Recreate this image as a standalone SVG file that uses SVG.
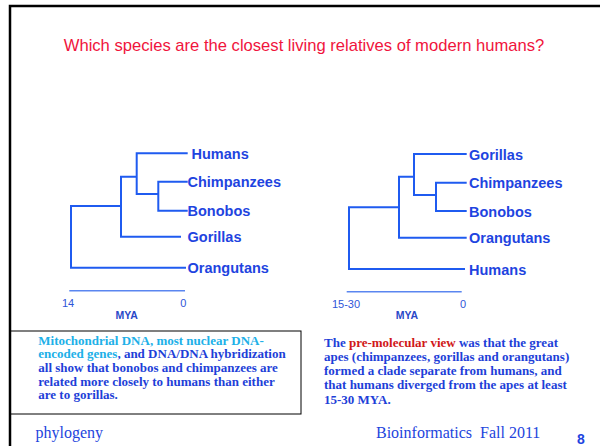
<svg xmlns="http://www.w3.org/2000/svg" width="600" height="446" viewBox="0 0 600 446">
<style>
.br{fill:none;stroke:#1f5bf0;stroke-width:2;stroke-linecap:square}
.sc{fill:none;stroke:#5a86f0;stroke-width:1.5}
.lab{font-family:"Liberation Sans",Arial,sans-serif;font-weight:bold;font-size:14.5px;fill:#1e44e0}
.num{font-family:"Liberation Sans",Arial,sans-serif;font-size:11px;fill:#2f55d8}
.mya{font-family:"Liberation Sans",Arial,sans-serif;font-weight:bold;font-size:10.5px;fill:#2a48c8}
.tx{font-family:"Liberation Serif","Times New Roman",serif;font-weight:bold;font-size:13px;fill:#1e3fd8}
.cy{fill:#20b0e8}
.rd{fill:#d01818}
.ft{font-family:"Liberation Serif","Times New Roman",serif;font-size:16px;fill:#2244dd}
</style>
<rect width="600" height="446" fill="#fff"/>
<g id="frame" fill="none" stroke="#000" stroke-width="2.5">
<path d="M10,446 V6 H600"/>
</g>
<text id="title" x="304" y="51" text-anchor="middle" font-family="'Liberation Sans',Arial,sans-serif" font-size="16.6" fill="#f0143c">Which species are the closest living relatives of modern humans?</text>
<g id="connectors">
<g id="tree1">
<path class="br" d="M136.7,153.3 H186.7 M136.7,153.3 V194 H158.3 M158.3,181.7 V210.7 M158.3,181.7 H186.7 M158.3,210.7 H186.7 M121,176.7 H136.7 M121,176.7 V236.7 H180 M71,206 H121 M71,206 V267.7 H185"/>
<path class="sc" d="M69.3,290.7 H185"/>
</g>
<g id="tree2">
<path class="br" d="M414,154 H465.7 M414,154 V195 H436 M436,182.7 V211 M436,182.7 H465.7 M436,211 H465.7 M399,176.7 H414 M399,176.7 V237.7 H465.7 M349,207.3 H399 M349,207.3 V269 H464"/>
<path class="sc" d="M346.7,291.7 H461.7"/>
</g>
</g>
<g id="n-humans1"><text class="lab" x="191.5" y="158.5">Humans</text></g>
<g id="n-chimp1"><text class="lab" x="187.5" y="187">Chimpanzees</text></g>
<g id="n-bonobo1"><text class="lab" x="187.5" y="216">Bonobos</text></g>
<g id="n-gorilla1"><text class="lab" x="187.5" y="242">Gorillas</text></g>
<g id="n-orang1"><text class="lab" x="187.5" y="273">Orangutans</text></g>
<g id="scale1">
<text class="num" x="68" y="306.5" text-anchor="middle">14</text>
<text class="num" x="183.3" y="306.5" text-anchor="middle">0</text>
<text class="mya" x="126.7" y="319" text-anchor="middle">MYA</text>
</g>
<g id="n-gorilla2"><text class="lab" x="469" y="159.5">Gorillas</text></g>
<g id="n-chimp2"><text class="lab" x="469" y="188">Chimpanzees</text></g>
<g id="n-bonobo2"><text class="lab" x="469" y="216.5">Bonobos</text></g>
<g id="n-orang2"><text class="lab" x="469" y="243">Orangutans</text></g>
<g id="n-humans2"><text class="lab" x="469" y="274.5">Humans</text></g>
<g id="scale2">
<text class="num" x="346" y="307.5" text-anchor="middle">15-30</text>
<text class="num" x="463" y="307.5" text-anchor="middle">0</text>
<text class="mya" x="407" y="319" text-anchor="middle">MYA</text>
</g>
<g id="box-left">
<rect x="10" y="331" width="291" height="83" fill="none" stroke="#000" stroke-width="1"/>
<text class="tx" x="38.3">
<tspan x="38.3" y="344.5" class="cy">Mitochondrial DNA, most nuclear DNA-</tspan>
<tspan x="38.3" y="358.2"><tspan class="cy">encoded genes</tspan>, and DNA/DNA hybridization</tspan>
<tspan x="38.3" y="371.9">all show that bonobos and chimpanzees are</tspan>
<tspan x="38.3" y="385.6">related more closely to humans than either</tspan>
<tspan x="38.3" y="399.3">are to gorillas.</tspan>
</text>
</g>
<g id="text-right">
<text class="tx" x="324">
<tspan x="324" y="346.5">The <tspan class="rd">pre-molecular view</tspan> was that the great</tspan>
<tspan x="324" y="360.8">apes (chimpanzees, gorillas and orangutans)</tspan>
<tspan x="324" y="375.1">formed a clade separate from humans, and</tspan>
<tspan x="324" y="389.4">that humans diverged from the apes at least</tspan>
<tspan x="324" y="403.7">15-30 MYA.</tspan>
</text>
</g>
<g id="footer">
<text class="ft" x="35.5" y="438">phylogeny</text>
<text class="ft" x="376" y="438" xml:space="preserve">Bioinformatics  Fall 2011</text>
<text x="581" y="444" text-anchor="middle" font-family="'Liberation Sans',Arial,sans-serif" font-weight="bold" font-size="14" fill="#1e44e0">8</text>
</g>
</svg>
